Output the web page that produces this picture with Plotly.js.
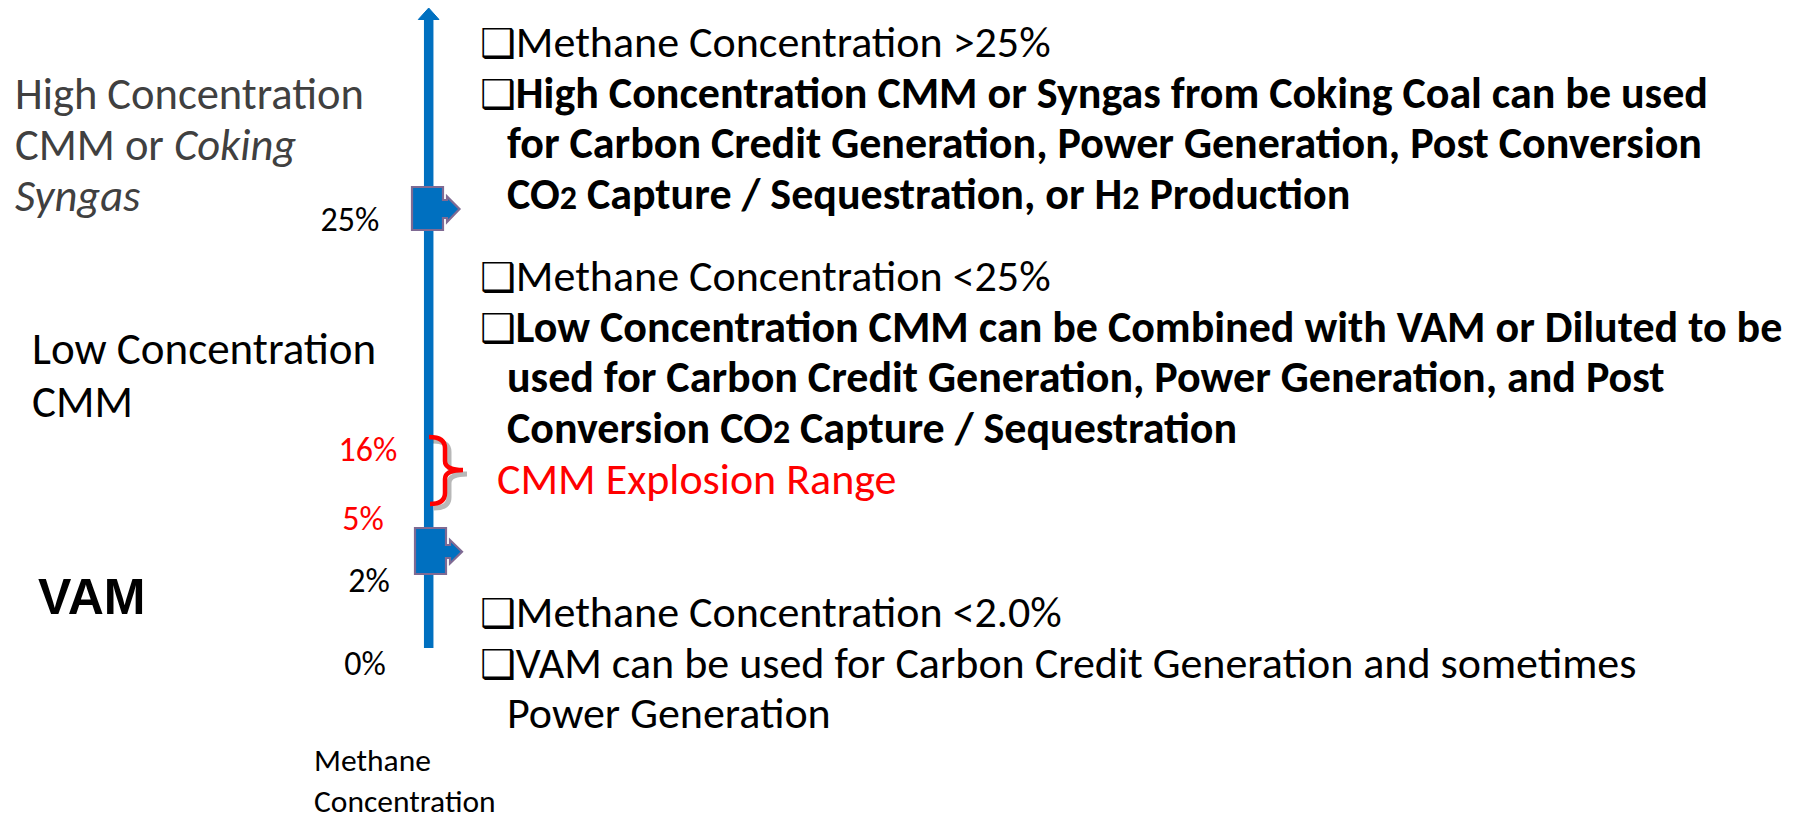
<!DOCTYPE html>
<html><head><meta charset="utf-8">
<script src="https://cdn.plot.ly/plotly-3.0.1.min.js"></script>
<style>html,body{margin:0;padding:0;background:#fff;overflow:hidden}#chart{width:1801px;height:821px}</style>
</head><body><div id="chart"></div>
<script>
// ---------------- data ----------------
const levelLabels = ['25%', '16%', '5%', '2%', '0%'];
const levelIsExplosive = [false, true, true, false, false];
const explosionLabel = 'CMM Explosion Range';
const zoneHigh = ['High Concentration', 'CMM or <i>Coking</i>', '<i>Syngas</i>'];
const zoneLow = ['Low Concentration', 'CMM'];
const zoneVam = ['VAM'];
const axisTitle = ['Methane', 'Concentration'];
const highHeader = 'Methane Concentration >25%';
const highUse = ['High Concentration CMM or Syngas from Coking Coal can be used',
                 'for Carbon Credit Generation, Power Generation, Post Conversion',
                 'CO{2} Capture / Sequestration, or H{2} Production'];
const lowHeader = 'Methane Concentration <25%';
const lowUse = ['Low Concentration CMM can be Combined with VAM or Diluted to be',
                'used for Carbon Credit Generation, Power Generation, and Post',
                'Conversion CO{2} Capture / Sequestration'];
const vamHeader = 'Methane Concentration <2.0%';
const vamUse = ['VAM can be used for Carbon Credit Generation and sometimes',
                'Power Generation'];

// ---------------- layout config ----------------
const FONT = 'Carlito, Lato, sans-serif';
const BODY = 44;
const BOLD = 44;
const BLUE = '#0070C0';
const MARK_EDGE = '#7F6A93';
const levelPos = [[350, 222], [368, 452], [363, 521], [369, 583], [365, 666]];
const BOX = '<span style="font-family:DejaVu Sans;font-size:40px">\u2751</span>';

function esc(s){return s.replace(/</g,'&lt;').replace(/>/g,'&gt;');}
function sub2(s, size){return s.replace(/\{2\}/g, '<span style="font-size:'+size+'px">2</span>');}

const annotations = [];
function addText(text, x, y, opts){
  annotations.push(Object.assign({
    text: text, x: x, y: y, xref: 'x', yref: 'y', showarrow: false,
    xanchor: 'left', yanchor: 'middle', align: 'left',
    font: {family: FONT, size: BODY, color: '#000'}
  }, opts || {}));
}

// right-hand blocks
const blocks = [
  {header: highHeader, use: highUse, y0: 42},
  {header: lowHeader, use: lowUse, y0: 276},
  {header: vamHeader, use: vamUse, y0: 612, bold: false}
];
const LH = 50.5;
blocks.forEach(b => {
  addText(BOX + esc(b.header), 478, b.y0);
  b.use.forEach((line, i) => {
    const isBold = b.bold !== false;
    let t = sub2(esc(line), Math.round(BODY*0.78));
    if (isBold) t = '<b>' + t + '</b>';
    if (i === 0) t = BOX + t;
    addText(t, i === 0 ? 478 : 505, b.y0 + LH*(i+1),
            {font:{family:FONT, size: isBold ? BOLD : BODY, color:'#000'}});
  });
});

// left zone labels
zoneHigh.forEach((t, i) => addText(t, 13, 94 + 51*i, {font:{family:FONT, size:44.5, color:'#404040'}}));
zoneLow.forEach((t, i) => addText(t, 30, 348 + 53*i, {font:{family:FONT, size:45, color:'#000'}}));
addText('<b>' + zoneVam[0] + '</b>', 36, 597, {font:{family:'Liberation Sans, Arial, sans-serif', size:50, color:'#000'}});
addText(axisTitle.join('<br>'), 313, 821, {yanchor:'bottom', borderpad:0, font:{family:FONT, size:31.5, color:'#000'}});

// explosion label
addText(explosionLabel, 495, 479, {font:{family:FONT, size:BODY, color:'#FF0000'}});

// level labels via text trace
const levelTrace = {
  type: 'scatter', mode: 'text',
  x: levelPos.map(p => p[0]), y: levelPos.map(p => p[1]),
  text: levelLabels,
  textposition: 'middle center',
  textfont: {family: FONT, size: 34, color: levelIsExplosive.map(e => e ? '#FF0000' : '#000')},
  hoverinfo: 'skip', showlegend: false
};

// shapes
function markerPath(x0, x1, y0, y1, ys0, ys1, xh, yh0, yh1, xt, yt){
  return `M${x0},${y0} L${x1},${y0} L${x1},${ys0} L${xh},${ys0} L${xh},${yh0} L${xt},${yt} L${xh},${yh1} L${xh},${ys1} L${x1},${ys1} L${x1},${y1} L${x0},${y1} Z`;
}
const bracket = (dx, dy) => `M${429+dx},${437+dy} Q${445+dx},${437+dy} ${445+dx},${448+dy} L${445+dx},${461+dy} Q${445+dx},${470+dy} ${463+dx},${470+dy} Q${445+dx},${470+dy} ${445+dx},${479+dy} L${445+dx},${493+dy} Q${445+dx},${504+dy} ${430+dx},${504+dy}`;

const shapes = [
  {type:'line', xref:'x', yref:'y', x0:428.7, x1:428.7, y0:648, y1:18, line:{color:BLUE, width:9.5}},
  {type:'path', xref:'x', yref:'y', path:'M418.3,19.5 L439,19.5 L428.7,8 Z', fillcolor:BLUE, line:{color:BLUE, width:1}},
  {type:'path', xref:'x', yref:'y', path: markerPath(412,443,187,230,200,218,447,196.5,222,459.5,209), fillcolor:BLUE, line:{color:MARK_EDGE, width:2.2}},
  {type:'path', xref:'x', yref:'y', path: markerPath(415,446,528,574,545,558,450,540,563.5,462,551.7), fillcolor:BLUE, line:{color:MARK_EDGE, width:2.2}},
  {type:'path', xref:'x', yref:'y', path: bracket(4,4), line:{color:'rgba(0,0,0,0.28)', width:5}},
  {type:'path', xref:'x', yref:'y', path: bracket(0,0), line:{color:'#FF0000', width:4.5}}
];

const layout = {
  width: 1801, height: 821,
  margin: {l:0, r:0, t:0, b:0},
  paper_bgcolor: '#fff', plot_bgcolor: '#fff',
  xaxis: {range:[0,1801], visible:false, fixedrange:true},
  yaxis: {range:[821,0], visible:false, fixedrange:true},
  shapes: shapes,
  annotations: annotations,
  showlegend: false
};
Plotly.newPlot('chart', [levelTrace], layout, {staticPlot:true, displayModeBar:false});
</script></body></html>
